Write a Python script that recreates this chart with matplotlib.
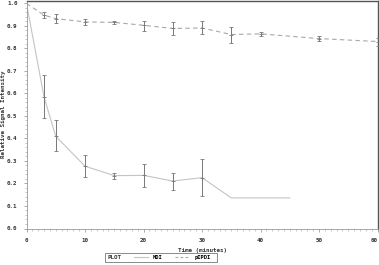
import numpy as np
import matplotlib
matplotlib.use('Agg')
import matplotlib.pyplot as plt
from matplotlib.lines import Line2D
from matplotlib.patches import Rectangle

# MDI (solid line)
MDI_T = [0, 3, 5, 10, 15, 20, 25, 30, 35, 40, 45]
MDI_Y = [1.0, 0.584, 0.41, 0.277, 0.235, 0.236, 0.211, 0.226, 0.136, 0.136, 0.136]
MDI_LO = [np.nan, 0.49, 0.344, 0.227, 0.218, 0.184, 0.170, 0.143, np.nan, np.nan, np.nan]
MDI_HI = [np.nan, 0.68, 0.48, 0.326, 0.248, 0.286, 0.248, 0.308, np.nan, np.nan, np.nan]

# pIPDI (dashed line)
PIPDI_T = [0, 3, 5, 10, 15, 20, 25, 30, 35, 40, 50, 60]
PIPDI_Y = [1.0, 0.948, 0.933, 0.918, 0.916, 0.903, 0.889, 0.891, 0.862, 0.865, 0.844, 0.831]
PIPDI_LO = [np.nan, 0.934, 0.913, 0.906, 0.909, 0.876, 0.860, 0.865, 0.824, 0.857, 0.833, 0.812]
PIPDI_HI = [np.nan, 0.963, 0.954, 0.933, 0.924, 0.924, 0.919, 0.922, 0.896, 0.873, 0.857, 0.848]

X_TICKS = [0, 10, 20, 30, 40, 50, 60]
Y_TICKS = [0.0, 0.1, 0.2, 0.3, 0.4, 0.5, 0.6, 0.7, 0.8, 0.9, 1.0]

W, H = 379, 265
FONT = dict(family='DejaVu Sans Mono', weight='bold', size=4.2)


def px(x0, y0, x1, y1):
	# pixel box (top-left origin) -> figure fraction rect
	return [x0 / W, 1 - y1 / H, (x1 - x0) / W, (y1 - y0) / H]


def bars(ax, t, y, lo, hi, color):
	t = np.array(t, float)
	y = np.array(y, float)
	lo = np.array(lo, float)
	hi = np.array(hi, float)
	m = ~np.isnan(lo)
	ax.errorbar(t[m], y[m], yerr=[y[m] - lo[m], hi[m] - y[m]], fmt='_', ms=3, mew=0.6,
		color=color, ecolor=color, elinewidth=0.7, capsize=1.5, capthick=0.7, zorder=3)


def main():
	fig = plt.figure(figsize=(W / 100, H / 100), dpi=100)
	ax = fig.add_axes(px(26.5, 1, 377.5, 228.5))

	ax.plot(MDI_T, MDI_Y, '-', color='#c4c4c4', lw=0.8, zorder=2)
	ax.plot(PIPDI_T, PIPDI_Y, '--', color='#a8a8a8', lw=0.8, dashes=(4, 3), zorder=2)
	bars(ax, MDI_T, MDI_Y, MDI_LO, MDI_HI, '#777777')
	bars(ax, PIPDI_T, PIPDI_Y, PIPDI_LO, PIPDI_HI, '#777777')

	ax.set_xlim(0, 60)
	ax.set_ylim(0, 1.011)
	ax.set_xticks(X_TICKS)
	ax.set_xticklabels([str(v) for v in X_TICKS], **FONT)
	ax.get_xticklabels()[-1].set_ha('right')
	ax.set_yticks(Y_TICKS)
	ax.set_yticklabels(['%.1f' % v for v in Y_TICKS], **FONT)
	ax.set_xticks(np.arange(0, 61, 1), minor=True)
	ax.set_yticks(np.arange(0, 1.001, 0.02), minor=True)
	ax.tick_params(which='major', length=2.5, width=0.5, color='#888888', pad=4, labelcolor='#333333')
	ax.tick_params(which='minor', length=1.2, width=0.4, color='#999999')

	for s in ['left', 'bottom']:
		ax.spines[s].set_color('#999999')
		ax.spines[s].set_linewidth(0.6)
	for s in ['top', 'right']:
		ax.spines[s].set_color('#555555')
		ax.spines[s].set_linewidth(1.0)

	ax.set_xlabel('Time (minutes)', labelpad=4, color='#333333', **FONT)
	ax.set_ylabel('Relative Signal Intensity', color='#333333', **FONT)
	ax.yaxis.set_label_coords(-0.058, 0.5)

	# legend along the bottom
	fig.patches.append(Rectangle((105 / W, 1 - 262 / H), 112 / W, 9 / H,
		transform=fig.transFigure, fill=False, ec='#777777', lw=0.6))
	fig.text(107 / W, 1 - 257.5 / H, 'PLOT', va='center', ha='left', color='#333333', **FONT)
	handles = [
		Line2D([], [], color='#c4c4c4', lw=0.8),
		Line2D([], [], color='#a8a8a8', lw=0.8, ls='--', dashes=(2.5, 2)),
	]
	fig.legend(handles, ['MDI', 'pIPDI'], ncol=2, loc='center left',
		bbox_to_anchor=(134 / W, 1 - 257.5 / H), frameon=False, handlelength=2.6,
		handletextpad=0.8, columnspacing=2.3, borderpad=0, borderaxespad=0,
		prop=dict(family='DejaVu Sans Mono', weight='bold', size=4.0))

	fig.savefig('out.png', dpi=100)


if __name__ == '__main__':
	main()
